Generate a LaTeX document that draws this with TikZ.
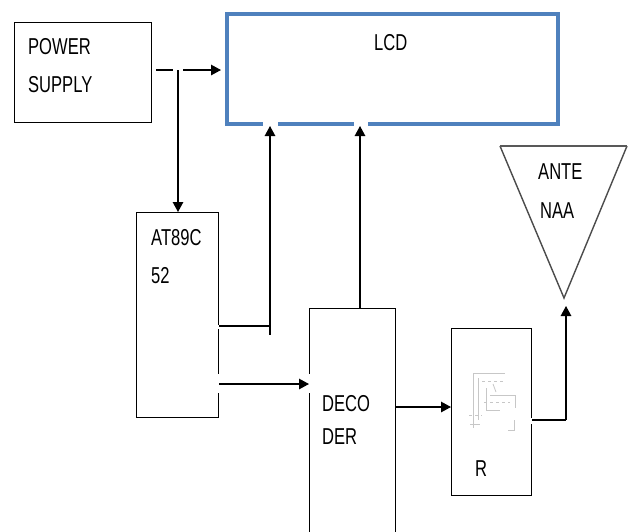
\documentclass[tikz,border=0pt]{standalone}
\usepackage{fontspec}
\setmainfont{Liberation Sans}[FakeStretch=0.72]
\usetikzlibrary{arrows.meta}
\definecolor{lcdblue}{HTML}{4F81BD}
\begin{document}
\begin{tikzpicture}[x=1pt,y=-1pt,
  box/.style={draw=black,line width=1.2pt,inner sep=0pt,anchor=north west},
  lbl/.style={anchor=base west,inner sep=0pt,font=\fontsize{23}{27}\selectfont},
  line/.style={draw=black,line width=1.3pt},
  arr/.style={line,-{Triangle[length=10pt,width=10.5pt]}},
  gap/.style={fill=white,draw=none},
  ghost/.style={draw=black!22,line width=0.8pt}]
\useasboundingbox (0,0) rectangle (631,531);
\fill[white] (0,0) rectangle (631,531);

% boxes
\node[box,minimum width=137pt,minimum height=100pt] (ps) at (14,22) {};
\node[box,draw=lcdblue,line width=4pt,minimum width=331pt,minimum height=110pt] (lcd) at (225,12) {};
\node[box,minimum width=82pt,minimum height=205pt] (at) at (136,212) {};
\node[box,minimum width=86pt,minimum height=252pt] (dec) at (309,308) {};
\node[box,minimum width=80pt,minimum height=167pt] (r) at (451,328) {};

% antenna triangle
\coordinate (tl) at (500,146);
\coordinate (tr) at (627,146);
\coordinate (apex) at (564,298);
\draw[draw=black!70,line width=1.4pt,line join=miter] (tl) -- (apex) -- (tr);
\draw[draw=black!65,line width=2.4pt] (tl) -- (tr);

% gaps in borders
\fill[gap] (263,118) rectangle (278,127);
\fill[gap] (354,118) rectangle (368,127);
\fill[gap] (215,325) rectangle (221,329);
\fill[gap] (215,374) rectangle (221,393);
\fill[gap] (306,374) rectangle (312,393);
\fill[gap] (528,418) rectangle (534,424);

% faint image inside R
\draw[ghost] (473,373) -- (505,373);
\draw[ghost] (473,373) -- (473,428);
\draw[ghost] (478,378) -- (478,420);
\draw[ghost,dashed] (482,381) -- (503,381);
\draw[ghost] (486,388) -- (486,410) -- (500,410);
\draw[ghost] (490,395) -- (515,395) -- (515,408);
\draw[ghost,dashed] (484,402) -- (510,402);
\draw[ghost] (493,384) -- (496,392);
\draw[ghost,dashed] (469,415) -- (482,415);
\draw[ghost] (470,424) -- (480,424);
\draw[ghost] (514,420) -- (514,430);
\draw[ghost] (508,430) -- (515,430);

% texts
\node[lbl] (t1) at (28,54.5) {POWER};
\node[lbl] (t2) at (28,92.5) {SUPPLY};
\node[lbl] (t3) at (374,50) {LCD};
\node[lbl] (t4) at (151,245) {AT89C};
\node[lbl] (t5) at (151,283) {52};
\node[lbl] (t6) at (322,411) {DECO};
\node[lbl] (t7) at (322,444) {DER};
\node[lbl] (t8) at (538,179) {ANTE};
\node[lbl] (t9) at (540,218) {NAA};
\node[lbl] (t10) at (475,476) {R};

% connectors
\coordinate (j) at (178,70);
\draw[line] ([xshift=4pt]ps.east |- j) -- ([xshift=-5pt]j);
\draw[arr,shorten >=4pt] ([xshift=5pt]j) -- (lcd.west |- j);
\draw[arr] (j) -- (at.north -| j);

\coordinate (k) at (270,326);
\draw[line] (at.east |- k) -- (k);
\draw[line] ([yshift=9pt]k) -- ([yshift=-9pt]k);
\draw[arr] ([yshift=9pt]k) -- (lcd.south -| k);

\coordinate (m) at (218,384);
\draw[arr] (at.east |- m) -- (dec.west |- m);

\coordinate (n) at (360,308);
\draw[arr] (dec.north -| n) -- (lcd.south -| n);

\coordinate (p) at (397,407);
\draw[arr] (dec.east |- p) -- (r.west |- p);

\coordinate (q) at (566,420);
\draw[line] (r.east |- q) -- (q);
\draw[arr,shorten >=8pt] (q) -- (apex -| q);
\end{tikzpicture}
\end{document}
